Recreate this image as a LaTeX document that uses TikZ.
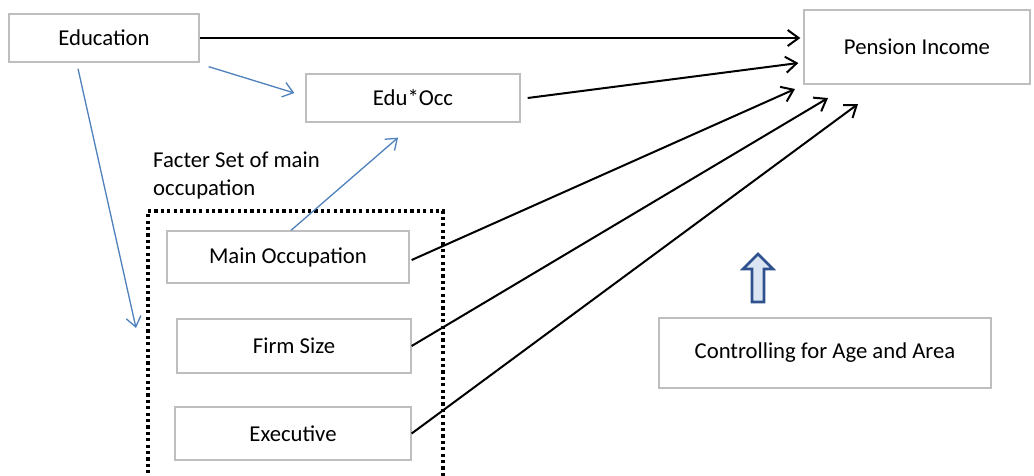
\documentclass[tikz,border=0pt]{standalone}
\usepackage{fontspec}
\setmainfont{Carlito}
\usetikzlibrary{arrows.meta}
\definecolor{boxgray}{RGB}{190,190,190}
\definecolor{linkblue}{RGB}{79,129,189}
\definecolor{hollowfill}{RGB}{220,230,242}
\definecolor{hollowedge}{RGB}{47,82,143}
\tikzset{
  box/.style={draw=boxgray, line width=1.3pt, fill=white, inner sep=0pt, font=\fontsize{22.7}{27}\selectfont},
  blk/.style={draw=black, line width=2pt, -{Straight Barb[length=11pt,width=16pt,line width=2pt]}},
  blu/.style={draw=linkblue, line width=1.3pt, -{Straight Barb[length=10pt,width=15pt,line width=1.3pt]}},
  dotbox/.style={draw=black, line width=3.2pt, dash pattern=on 3.2pt off 3.2pt, inner sep=0pt},
  lbl/.style={font=\fontsize{22.7}{28}\selectfont, align=left, inner sep=0pt}
}
\begin{document}
\begin{tikzpicture}[x=1pt,y=-1pt]
\useasboundingbox[fill=white] (0,0) rectangle (1034,475);
% nodes
\node[box, minimum width=190pt, minimum height=48pt] (edu) at (104,38) {Education};
\node[box, minimum width=226pt, minimum height=74pt] (pension) at (917,47) {Pension Income};
\node[box, minimum width=214pt, minimum height=48pt] (eduocc) at (413,98) {Edu*Occ};
\node[dotbox, minimum width=295pt, minimum height=290pt] (fac) at (295.5,356) {};
\node[lbl, anchor=north west] (faclbl) at (153,152) {Facter Set of main\\occupation};
\node[box, minimum width=242pt, minimum height=52pt] (mo) at (288,257) {Main Occupation};
\node[box, minimum width=234pt, minimum height=54pt] (fs) at (294,346) {Firm Size};
\node[box, minimum width=236pt, minimum height=53pt] (ex) at (293,433.5) {Executive};
\node[box, minimum width=332pt, minimum height=70pt] (ctrl) at (825,353) {Controlling for Age and Area};
% free ends
\coordinate (t3) at (795,89);
\coordinate (t4) at (828,98);
\coordinate (t5) at (858,104);
\coordinate (e2) at (136,328);
% black arrows
\draw[blk] (edu.east) -- ([xshift=-3]edu.east -| pension.west);
\draw[blk] ([xshift=7]eduocc.east) -- ([shift={(-5,16)}]pension.west);
\draw[blk] ([shift={(2,3)}]mo.east) -- (t3);
\draw[blk] (fs.east) -- (t4);
\draw[blk] (ex.east) -- (t5);
% blue arrows
\draw[blu] ([shift={(9,4)}]edu.south east) -- ([shift={(-11,-5)}]eduocc.west);
\draw[blu] ([shift={(-26,6)}]edu.south) -- (e2);
\draw[blu] ([xshift=3]mo.north) -- ([shift={(-15,15)}]eduocc.south);
% hollow up arrow
\draw[draw=hollowedge, fill=hollowfill, line width=2.6pt, line join=miter]
  (752,302) -- (764,302) -- (764,269) -- (773,269) -- (758,254) -- (743,269) -- (752,269) -- cycle;
\end{tikzpicture}
\end{document}
